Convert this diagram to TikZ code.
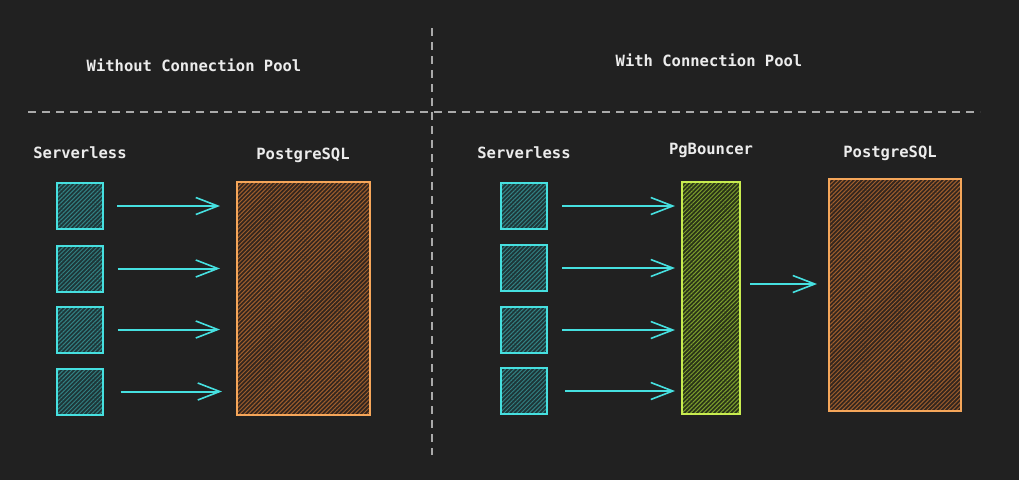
\documentclass[tikz,border=0pt]{standalone}
\usepackage{fontspec}
\setmonofont{DejaVu Sans Mono}
\usetikzlibrary{positioning, arrows.meta, patterns.meta}
\definecolor{bgdark}{RGB}{33,33,33}
\definecolor{dashgray}{RGB}{170,170,170}
\definecolor{txtwhite}{RGB}{236,236,236}
\definecolor{cyanline}{RGB}{70,224,224}
\definecolor{tealbase}{RGB}{30,54,56}
\definecolor{tealhatch}{RGB}{50,130,132}
\definecolor{pgorange}{RGB}{245,166,90}
\definecolor{brownbase}{RGB}{52,38,30}
\definecolor{brownhatch}{RGB}{160,95,45}
\definecolor{limeline}{RGB}{200,236,80}
\definecolor{olivebase}{RGB}{42,52,24}
\definecolor{olivehatch}{RGB}{125,160,45}

\begin{document}
\begin{tikzpicture}[x=1pt, y=-1pt,
    lbl/.style = {text=txtwhite, font=\ttfamily\bfseries\fontsize{15.5}{18}\selectfont,
      inner sep=0pt},
    divider/.style = {draw=dashgray, line width=1.5pt, dash pattern=on 8pt off 6pt},
    srv/.style = {rectangle, draw=cyanline, line width=2pt, minimum size=46pt,
      inner sep=0pt, preaction={fill=tealbase},
      pattern={Lines[angle=45, distance=3pt, line width=1pt]},
      pattern color=tealhatch},
    pgbox/.style = {rectangle, draw=pgorange, line width=2pt, inner sep=0pt,
      minimum width=133pt, minimum height=233pt, preaction={fill=brownbase},
      pattern={Lines[angle=45, distance=3pt, line width=1pt]},
      pattern color=brownhatch},
    bouncer/.style = {rectangle, draw=limeline, line width=2pt, inner sep=0pt,
      minimum width=58pt, minimum height=232pt, preaction={fill=olivebase},
      pattern={Lines[angle=45, distance=3pt, line width=1pt]},
      pattern color=olivehatch},
    conn/.style = {draw=cyanline, line width=2pt,
      -{Straight Barb[length=22pt, width=17pt, line width=1.6pt]}},
  ]
\fill[bgdark] (0,0) rectangle (1019,480);
\useasboundingbox (0,0) rectangle (1019,480);

% dividers
\coordinate (vtop) at (432,28);
\coordinate (vbot) at (432,455);
\coordinate (hleft) at (28,112);
\coordinate (hright) at (980,112);
\draw[divider] (vtop) -- (vbot);
\draw[divider] (hleft) -- (hright);

% titles
\node[lbl] (t1) at (194,65) {Without Connection Pool};
\node[lbl] (t2) at (709,60) {With Connection Pool};

% left side
\node[lbl] (ls) at (80,153) {Serverless};
\node[lbl] (lp) at (303,155) {PostgreSQL};
\node[srv] (l1) at (79.5,206) {};
\node[srv] (l2) at (79.5,268.5) {};
\node[srv] (l3) at (79.5,329.5) {};
\node[srv] (l4) at (79.5,391.5) {};
\node[pgbox] (pg1) at (303.5,298.5) {};

\draw[conn, shorten <=14pt, shorten >=16pt] (l1.east) -- (l1.east -| pg1.west);
\draw[conn, shorten <=14pt, shorten >=16pt] (l2.east) -- (l2.east -| pg1.west);
\draw[conn, shorten <=14pt, shorten >=16pt] (l3.east) -- (l3.east -| pg1.west);
\draw[conn, shorten <=17pt, shorten >=14pt] (l4.east) -- (l4.east -| pg1.west);

% right side
\node[lbl] (rs) at (524,153) {Serverless};
\node[lbl] (rb) at (711,150) {PgBouncer};
\node[lbl] (rp) at (890,153) {PostgreSQL};
\node[srv] (r1) at (524,206) {};
\node[srv] (r2) at (524,268) {};
\node[srv] (r3) at (524,330) {};
\node[srv] (r4) at (524,391) {};
\node[bouncer] (pgb) at (711,298) {};
\node[pgbox, minimum width=132pt, minimum height=232pt] (pg2) at (895,295) {};

\draw[conn, shorten <=14pt, shorten >=6pt] (r1.east) -- (r1.east -| pgb.west);
\draw[conn, shorten <=14pt, shorten >=6pt] (r2.east) -- (r2.east -| pgb.west);
\draw[conn, shorten <=14pt, shorten >=6pt] (r3.east) -- (r3.east -| pgb.west);
\draw[conn, shorten <=17pt, shorten >=6pt] (r4.east) -- (r4.east -| pgb.west);
\draw[conn, shorten <=9pt, shorten >=11pt] ([yshift=14pt]pgb.east) -- ([yshift=14pt]pgb.east -| pg2.west);
\end{tikzpicture}
\end{document}
